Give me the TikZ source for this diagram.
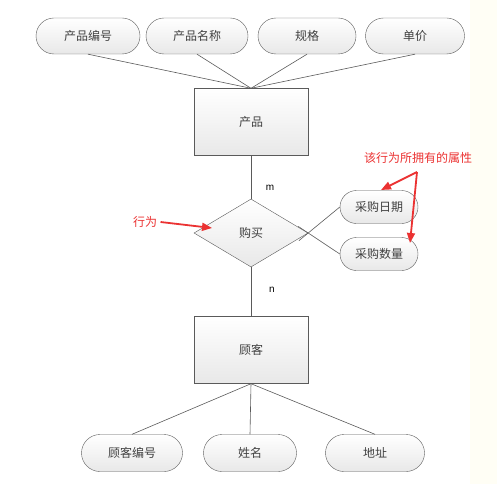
\documentclass[tikz,border=0pt]{standalone}
\usepackage{fontspec}
\setmainfont{Liberation Sans}
\newfontfamily\cjk{Noto Sans CJK SC}
\usetikzlibrary{shapes.geometric,shapes.misc,arrows.meta}
\definecolor{ln}{RGB}{90,90,90}
\definecolor{rd}{RGB}{235,50,50}
\tikzset{
 base/.style={draw=ln,top color=white,bottom color=gray!18,font=\cjk\fontsize{12}{14}\selectfont,text=black!75},
 attr/.style={base,rounded rectangle,minimum height=36pt,inner xsep=0pt},
 ent/.style={base,rectangle,minimum width=114pt,minimum height=67pt},
 rel/.style={base,diamond,minimum width=114pt,minimum height=68pt,inner sep=0pt,aspect=1.7},
 con/.style={draw=ln,line width=0.6pt},
 note/.style={text=rd,font=\cjk\fontsize{12}{14}\selectfont},
 narrow/.style={draw=rd,line width=1.8pt,-{Triangle[length=10pt,width=8pt]}}
}
\begin{document}
\begin{tikzpicture}[x=1pt,y=-1pt]
\useasboundingbox (0,0) rectangle (497,484);
\fill[yellow!4] (470,0) rectangle (497,484);
\node[attr,minimum width=104pt] (a1) at (88,36) {产品编号};
\node[attr,minimum width=102pt] (a2) at (197,36) {产品名称};
\node[attr,minimum width=98pt] (a3) at (307,36) {规格};
\node[attr,minimum width=99pt] (a4) at (415,36) {单价};
\node[ent] (p) at (251,122) {产品};
\node[rel] (d) at (251,233) {购买};
\node[ent] (c) at (251,350) {顾客};
\node[attr,minimum width=78pt,minimum height=33pt] (r1) at (379,207) {采购日期};
\node[attr,minimum width=78pt,minimum height=33pt] (r2) at (379,254) {采购数量};
\node[attr,minimum width=101pt,minimum height=37pt] (b1) at (132,453) {顾客编号};
\node[attr,minimum width=93pt,minimum height=37pt] (b2) at (250,453) {姓名};
\node[attr,minimum width=99pt,minimum height=37pt] (b3) at (375,453) {地址};
\foreach \n in {a1,a2,a3,a4}{\draw[con] (\n.south) -- (p.north);}
\foreach \n in {b1,b2,b3}{\draw[con] (c.south) -- (\n.north);}
\draw[con] (p) -- (d);
\draw[con] (d) -- (c);
\draw[con,shorten <=-12pt] (d.east) -- (r1.west);
\draw[con,shorten <=-12pt] (d.east) -- (r2.west);
\node[font=\fontsize{10}{12}\selectfont] (m) at (270,188) {m};
\node[font=\fontsize{10}{12}\selectfont] (n) at (272,290) {n};
\node[note] (t1) at (145,222) {行为};
\draw[narrow] (t1.east) -- (212,228);
\node[note] (t2) at (418,158) {该行为所拥有的属性};
\coordinate (o) at (417,172);
\draw[narrow] (o) -- (381,190);
\draw[narrow] (o) -- (410,243);
\end{tikzpicture}
\end{document}
